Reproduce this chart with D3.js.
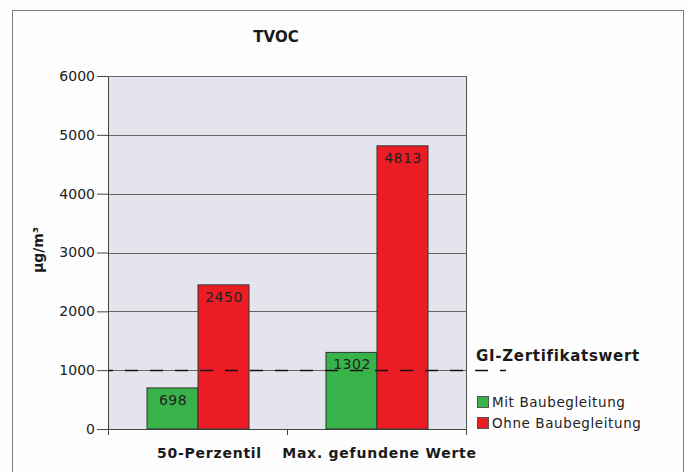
<!DOCTYPE html>
<html>
<head>
<meta charset="utf-8">
<script src="https://cdn.jsdelivr.net/npm/d3@7"></script>
<style>
  body { margin: 0; background: #fdfdfd; }
  svg { display: block; font-family: "DejaVu Sans", sans-serif; }
</style>
</head>
<body>
<script>
  const categories = ["50-Perzentil", "Max. gefundene Werte"];
  const seriesNames = ["Mit Baubegleitung", "Ohne Baubegleitung"];
  const mitValues = [698, 1302];
  const ohneValues = [2450, 4813];
  const yTicks = [0, 1000, 2000, 3000, 4000, 5000, 6000];
  const limitValue = 1000;
  const limitLabel = "GI-Zertifikatswert";
  const colors = ["#37b34a", "#ec1c24"];

  const W = 686, H = 472;
  const margin = { top: 76, right: 220, bottom: 43, left: 108 };

  const svg = d3.select("body").append("svg")
    .attr("width", W)
    .attr("height", H);

  // outer frame
  svg.append("rect")
    .attr("x", 12.5).attr("y", 10.5)
    .attr("width", 671).attr("height", 480)
    .attr("fill", "#fdfdfd")
    .attr("stroke", "#808080");

  const x0 = d3.scaleBand()
    .domain(categories)
    .range([margin.left, W - margin.right])
    .paddingInner(0).paddingOuter(0);

  const x1 = d3.scaleBand()
    .domain(seriesNames)
    .range([0, x0.bandwidth()])
    .paddingInner(0)
    .paddingOuter(0.755);

  const y = d3.scaleLinear()
    .domain([0, 6000])
    .range([H - margin.bottom, margin.top]);

  const plotLeft = x0.range()[0], plotRight = x0.range()[1];

  // plot background
  svg.append("rect")
    .attr("x", plotLeft + 0.5).attr("y", y(6000) + 0.5)
    .attr("width", plotRight - plotLeft)
    .attr("height", y(0) - y(6000))
    .attr("fill", "#e4e4ec")
    .attr("stroke", "#555")
    .attr("stroke-width", 1);

  // gridlines
  svg.append("g")
    .selectAll("line")
    .data(yTicks.filter(d => d > 0))
    .enter()
    .append("line")
    .attr("x1", plotLeft).attr("x2", plotRight)
    .attr("y1", d => Math.round(y(d)) + 0.5)
    .attr("y2", d => Math.round(y(d)) + 0.5)
    .attr("stroke", "#666")
    .attr("stroke-width", 1);

  // y axis
  const yAxis = d3.axisLeft(y).tickValues(yTicks).tickFormat(d3.format("d"))
    .tickSize(11).tickPadding(2).tickSizeOuter(0);
  const gy = svg.append("g")
    .attr("transform", `translate(${plotLeft},0)`)
    .call(yAxis);
  gy.select(".domain").attr("stroke", "#444");
  gy.selectAll(".tick line").attr("stroke", "#444");
  gy.selectAll("text")
    .attr("font-size", 14)
    .attr("fill", "#222")
    .attr("font-family", "DejaVu Sans");

  // x axis
  const gx = svg.append("g")
    .attr("transform", `translate(0,${y(0)})`);
  gx.append("line")
    .attr("x1", plotLeft).attr("x2", plotRight)
    .attr("y1", 0.5).attr("y2", 0.5)
    .attr("stroke", "#444");
  const boundaries = categories.map(c => x0(c)).concat([plotRight]);
  gx.selectAll("line.tk")
    .data(boundaries)
    .enter()
    .append("line")
    .attr("class", "tk")
    .attr("x1", d => d + 0.5).attr("x2", d => d + 0.5)
    .attr("y1", 0).attr("y2", 6)
    .attr("stroke", "#444");
  gx.selectAll("text")
    .data(categories)
    .enter()
    .append("text")
    .attr("x", (d, i) => x0(d) + x0.bandwidth() / 2 + (i === 0 ? 12 : 3))
    .attr("y", 29)
    .attr("text-anchor", "middle")
    .attr("font-size", 14)
    .attr("font-weight", "bold")
    .attr("letter-spacing", 0.75)
    .attr("fill", "#1a1a1a")
    .text(d => d);

  // bars
  const rows = categories.map((c, i) => ({ cat: c, vals: [mitValues[i], ohneValues[i]] }));
  const groups = svg.append("g")
    .selectAll("g")
    .data(rows)
    .enter()
    .append("g")
    .attr("transform", d => `translate(${x0(d.cat)},0)`);

  groups.selectAll("rect")
    .data(d => d.vals.map((v, j) => ({ s: seriesNames[j], v: v, j: j })))
    .enter()
    .append("rect")
    .attr("x", d => x1(d.s) + 0.5)
    .attr("y", d => y(d.v))
    .attr("width", x1.bandwidth())
    .attr("height", d => y(0) - y(d.v))
    .attr("fill", d => colors[d.j])
    .attr("stroke", "#333")
    .attr("stroke-width", 1);

  groups.selectAll("text")
    .data(d => d.vals.map((v, j) => ({ s: seriesNames[j], v: v })))
    .enter()
    .append("text")
    .attr("x", d => x1(d.s) + x1.bandwidth() / 2 + 1)
    .attr("y", d => y(d.v) + 17)
    .attr("text-anchor", "middle")
    .attr("font-size", 14)
    .attr("letter-spacing", 0.5)
    .attr("fill", "#222")
    .text(d => d.v);

  // limit line
  svg.append("line")
    .attr("x1", plotLeft).attr("x2", 506)
    .attr("y1", Math.round(y(limitValue)) + 0.5)
    .attr("y2", Math.round(y(limitValue)) + 0.5)
    .attr("stroke", "#111")
    .attr("stroke-width", 1.5)
    .attr("stroke-dasharray", "13,12")
    .attr("stroke-dashoffset", -17);

  svg.append("text")
    .attr("x", 476).attr("y", 361)
    .attr("font-size", 15)
    .attr("font-weight", "bold")
    .attr("letter-spacing", 0.7)
    .attr("fill", "#1a1a1a")
    .text(limitLabel);

  // legend
  const legend = svg.append("g")
    .selectAll("g")
    .data(seriesNames)
    .enter()
    .append("g")
    .attr("transform", (d, i) => `translate(477,${396 + i * 21})`);
  legend.append("rect")
    .attr("x", 0.5).attr("y", 0.5)
    .attr("width", 11).attr("height", 11)
    .attr("fill", (d, i) => colors[i])
    .attr("stroke", "#555");
  legend.append("text")
    .attr("x", 15).attr("y", 11)
    .attr("font-size", 13.5)
    .attr("letter-spacing", 0.6)
    .attr("fill", "#222")
    .text(d => d);

  // title
  svg.append("text")
    .attr("x", 276).attr("y", 42)
    .attr("text-anchor", "middle")
    .attr("font-size", 15)
    .attr("font-weight", "bold")
    .attr("fill", "#1a1a1a")
    .text("TVOC");

  // y label
  svg.append("text")
    .attr("transform", "translate(43,250) rotate(-90)")
    .attr("text-anchor", "middle")
    .attr("font-size", 14)
    .attr("font-weight", "bold")
    .attr("fill", "#1a1a1a")
    .text("µg/m³");
</script>
</body>
</html>
